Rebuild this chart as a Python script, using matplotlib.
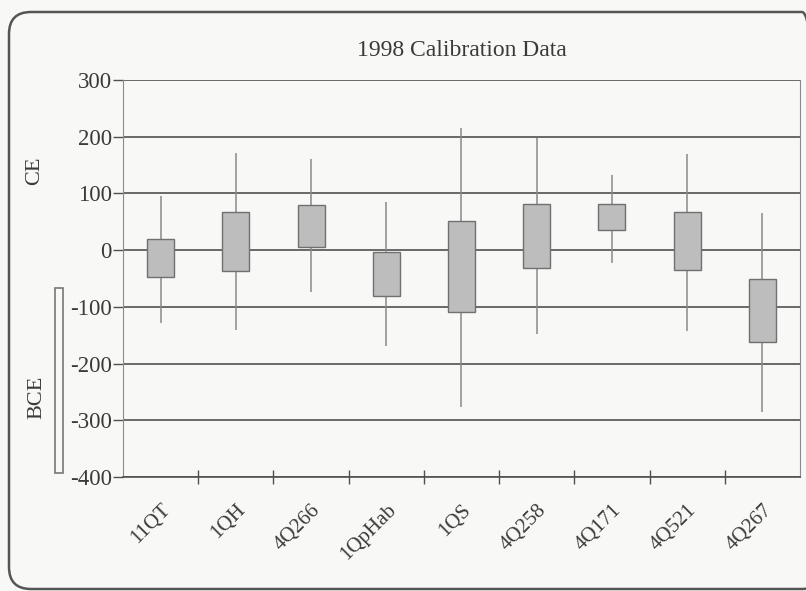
import numpy as np
import matplotlib
matplotlib.use("Agg")
import matplotlib.pyplot as plt
from matplotlib.patches import FancyBboxPatch, Rectangle
from matplotlib.transforms import IdentityTransform, blended_transform_factory

# Calibration ranges (CE positive, BCE negative)
samples = ["11QT", "1QH", "4Q266", "1QpHab", "1QS", "4Q258", "4Q171", "4Q521", "4Q267"]
whisker_high = [95, 171, 160, 85, 216, 198, 132, 169, 66]
box_top = [20, 67, 79, -3, 52, 82, 81, 67, -51]
box_bottom = [-48, -36, 6, -81, -109, -32, 35, -35, -162]
whisker_low = [-128, -141, -74, -169, -277, -148, -23, -143, -285]
y_ticks = [300, 200, 100, 0, -100, -200, -300, -400]

plt.rcParams["font.family"] = ["Liberation Serif", "DejaVu Serif"]
text_col = "#3a3a3a"
bg = "#f8f8f7"

fig = plt.figure(figsize=(8.06, 5.91), dpi=100, facecolor=bg)
ax = fig.add_axes([123 / 806, 1 - 477 / 591, 677 / 806, 397 / 591])
ax.set_facecolor(bg)

# outer rounded frame of the figure box (pixel coordinates)
frame = FancyBboxPatch((9, 591 - 589), 815, 577,
                       boxstyle="round,pad=0,rounding_size=22",
                       transform=IdentityTransform(), fill=False,
                       edgecolor="#555555", linewidth=1.8, clip_on=False)
fig.patches.append(frame)

x = np.arange(len(samples)) + 0.5

# horizontal grid lines
for t in y_ticks:
    ax.axhline(t, color="#505050", linewidth=1.2, zorder=1)

heights = np.array(box_top) - np.array(box_bottom)
ax.vlines(x, whisker_low, whisker_high, color="#8a8a8a", linewidth=1.1, zorder=2)
ax.bar(x, heights, bottom=box_bottom, width=0.36, color="#bdbdbd",
       edgecolor="#707070", linewidth=1.0, zorder=3)

ax.set_xlim(0, len(samples))
ax.set_ylim(-400, 300)

ax.set_yticks(y_ticks)
ax.set_yticklabels([str(t) for t in y_ticks])
ax.tick_params(axis="y", direction="out", length=7, width=1, color="#505050",
               labelsize=16.5, labelcolor=text_col, pad=1)

ax.set_xticks(x)
ax.set_xticklabels(samples, rotation=45, ha="right", va="top",
                   rotation_mode="anchor", fontsize=15, color=text_col)
ax.tick_params(axis="x", which="major", length=0, pad=17)
ax.set_xticks(np.arange(1, len(samples)), minor=True)
ax.tick_params(axis="x", which="minor", direction="inout", length=10,
               width=1, color="#505050")

ax.spines["top"].set_visible(False)
ax.spines["left"].set_color("#8a8a8a")
ax.spines["right"].set_color("#8a8a8a")
ax.spines["bottom"].set_color("#505050")
ax.spines["bottom"].set_linewidth(1.2)

# era labels and the BCE bracket on the left
tr = blended_transform_factory(ax.transAxes, ax.transData)
ax.text(-0.13, 140, "CE", rotation=90, ha="center", va="center",
        fontsize=16, color=text_col, transform=tr)
ax.text(-0.127, -260, "BCE", rotation=90, ha="center", va="center",
        fontsize=16, color=text_col, transform=tr)
ax.add_patch(Rectangle((-0.1004, -393), 0.0118, 326, transform=tr,
                       fill=False, edgecolor="#777777", linewidth=1.2,
                       clip_on=False))

fig.text(461.5 / 806, 1 - 50 / 591, "1998 Calibration Data", ha="center",
         va="center", fontsize=17, color=text_col)

fig.savefig("out.png", dpi=100, facecolor=bg)
